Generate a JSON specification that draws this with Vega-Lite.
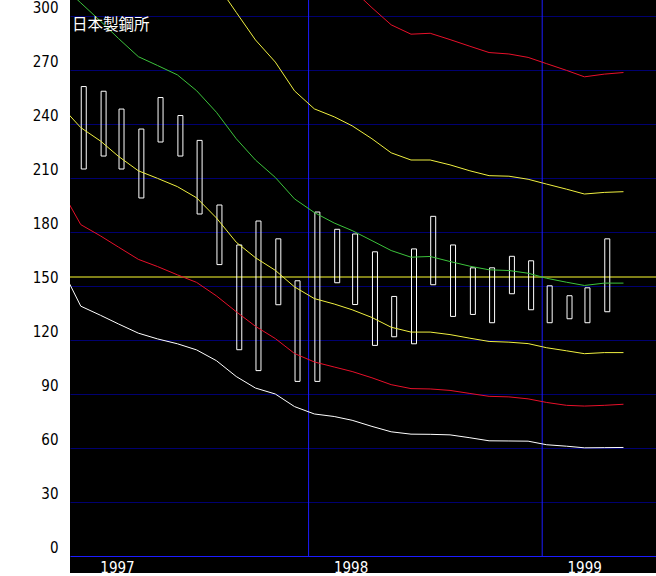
{
  "$schema": "https://vega.github.io/schema/vega-lite/v6.json",
  "width": 586,
  "height": 573,
  "autosize": {"type": "none"},
  "padding": {"left": 70, "top": 0, "right": 0, "bottom": 3},
  "background": "white",
  "title": {
    "text": "日本製鋼所",
    "anchor": "start",
    "frame": "group",
    "font": "Noto Sans CJK JP",
    "fontSize": 15.5,
    "fontWeight": "normal",
    "color": "white",
    "baseline": "top",
    "offset": 0,
    "dx": 2,
    "dy": 34
  },
  "config": {
    "view": {"fill": "black", "stroke": null},
    "axis": {
      "labelFont": "DejaVu Sans Condensed, Liberation Sans, sans-serif",
      "labelFontSize": 15,
      "ticks": false,
      "tickSize": 0,
      "domain": false,
      "labelFlush": false,
      "labelOverlap": false,
      "labelBound": false
    }
  },
  "datasets": {
    "monthly": [
      {"date": "1996-12-10", "upper": null, "lower": null, "ma": 317.6, "env_hi1": null, "env_hi2": null, "env_lo1": 250.0, "env_lo2": 203.7, "env_lo3": 160.8},
      {"date": "1997-01-10", "upper": 260.8, "lower": 215.0, "ma": 307.3, "env_hi1": null, "env_hi2": null, "env_lo1": 238.0, "env_lo2": 184.1, "env_lo3": 138.8},
      {"date": "1997-02-10", "upper": 258.2, "lower": 222.2, "ma": 297.1, "env_hi1": null, "env_hi2": null, "env_lo1": 230.5, "env_lo2": 177.8, "env_lo3": 133.7},
      {"date": "1997-03-10", "upper": 248.3, "lower": 215.0, "ma": 287.5, "env_hi1": null, "env_hi2": null, "env_lo1": 222.0, "env_lo2": 171.6, "env_lo3": 128.9},
      {"date": "1997-04-10", "upper": 237.2, "lower": 198.9, "ma": 277.4, "env_hi1": null, "env_hi2": null, "env_lo1": 214.0, "env_lo2": 164.8, "env_lo3": 123.8},
      {"date": "1997-05-10", "upper": 254.7, "lower": 230.0, "ma": 272.5, "env_hi1": null, "env_hi2": null, "env_lo1": 209.8, "env_lo2": 160.8, "env_lo3": 120.6},
      {"date": "1997-06-10", "upper": 244.7, "lower": 222.2, "ma": 267.3, "env_hi1": null, "env_hi2": null, "env_lo1": 205.2, "env_lo2": 156.2, "env_lo3": 117.9},
      {"date": "1997-07-10", "upper": 230.9, "lower": 190.0, "ma": 258.5, "env_hi1": null, "env_hi2": null, "env_lo1": 199.0, "env_lo2": 152.0, "env_lo3": 114.5},
      {"date": "1997-08-10", "upper": 195.0, "lower": 161.9, "ma": 246.5, "env_hi1": 318.0, "env_hi2": null, "env_lo1": 187.8, "env_lo2": 144.5, "env_lo3": 108.5},
      {"date": "1997-09-10", "upper": 172.8, "lower": 114.6, "ma": 231.8, "env_hi1": 302.0, "env_hi2": null, "env_lo1": 174.3, "env_lo2": 135.7, "env_lo3": 99.7},
      {"date": "1997-10-10", "upper": 186.1, "lower": 103.0, "ma": 220.0, "env_hi1": 286.7, "env_hi2": null, "env_lo1": 165.7, "env_lo2": 127.6, "env_lo3": 93.3},
      {"date": "1997-11-10", "upper": 176.2, "lower": 139.6, "ma": 210.3, "env_hi1": 274.4, "env_hi2": null, "env_lo1": 158.7, "env_lo2": 120.8, "env_lo3": 90.0},
      {"date": "1997-12-10", "upper": 152.9, "lower": 97.0, "ma": 198.4, "env_hi1": 258.4, "env_hi2": null, "env_lo1": 149.5, "env_lo2": 112.5, "env_lo3": 83.0},
      {"date": "1998-01-10", "upper": 191.1, "lower": 97.0, "ma": 190.8, "env_hi1": 248.4, "env_hi2": null, "env_lo1": 143.0, "env_lo2": 107.8, "env_lo3": 78.9},
      {"date": "1998-02-10", "upper": 181.5, "lower": 151.8, "ma": 185.0, "env_hi1": 244.0, "env_hi2": null, "env_lo1": 140.0, "env_lo2": 105.0, "env_lo3": 77.5},
      {"date": "1998-03-10", "upper": 178.9, "lower": 139.7, "ma": 180.8, "env_hi1": 239.0, "env_hi2": 315.0, "env_lo1": 136.8, "env_lo2": 102.5, "env_lo3": 75.4},
      {"date": "1998-04-10", "upper": 169.0, "lower": 117.0, "ma": 175.2, "env_hi1": 231.8, "env_hi2": 304.6, "env_lo1": 132.5, "env_lo2": 99.0, "env_lo3": 72.0},
      {"date": "1998-05-10", "upper": 144.2, "lower": 121.8, "ma": 169.7, "env_hi1": 224.0, "env_hi2": 295.1, "env_lo1": 127.1, "env_lo2": 95.2, "env_lo3": 69.0},
      {"date": "1998-06-10", "upper": 170.6, "lower": 117.9, "ma": 166.0, "env_hi1": 220.0, "env_hi2": 289.9, "env_lo1": 124.4, "env_lo2": 93.0, "env_lo3": 67.7},
      {"date": "1998-07-10", "upper": 188.7, "lower": 150.7, "ma": 166.4, "env_hi1": 220.0, "env_hi2": 290.4, "env_lo1": 124.4, "env_lo2": 92.8, "env_lo3": 67.6},
      {"date": "1998-08-10", "upper": 172.8, "lower": 133.1, "ma": 163.6, "env_hi1": 217.3, "env_hi2": 286.9, "env_lo1": 123.0, "env_lo2": 92.0, "env_lo3": 67.3},
      {"date": "1998-09-10", "upper": 160.1, "lower": 134.2, "ma": 161.0, "env_hi1": 214.0, "env_hi2": 283.2, "env_lo1": 121.0, "env_lo2": 90.3, "env_lo3": 65.7},
      {"date": "1998-10-10", "upper": 160.1, "lower": 129.6, "ma": 159.0, "env_hi1": 211.3, "env_hi2": 279.7, "env_lo1": 119.2, "env_lo2": 88.7, "env_lo3": 64.0},
      {"date": "1998-11-10", "upper": 166.5, "lower": 145.7, "ma": 158.6, "env_hi1": 211.0, "env_hi2": 278.9, "env_lo1": 118.8, "env_lo2": 88.4, "env_lo3": 63.9},
      {"date": "1998-12-10", "upper": 164.0, "lower": 136.8, "ma": 157.1, "env_hi1": 209.3, "env_hi2": 277.0, "env_lo1": 118.0, "env_lo2": 87.3, "env_lo3": 63.8},
      {"date": "1999-01-08", "upper": 150.1, "lower": 129.6, "ma": 154.3, "env_hi1": 206.6, "env_hi2": 273.5, "env_lo1": 115.7, "env_lo2": 85.3, "env_lo3": 61.8},
      {"date": "1999-02-08", "upper": 144.6, "lower": 131.8, "ma": 152.1, "env_hi1": 203.8, "env_hi2": 269.8, "env_lo1": 114.0, "env_lo2": 83.7, "env_lo3": 61.0},
      {"date": "1999-03-08", "upper": 149.0, "lower": 129.6, "ma": 150.3, "env_hi1": 201.1, "env_hi2": 266.2, "env_lo1": 112.4, "env_lo2": 83.3, "env_lo3": 60.1},
      {"date": "1999-04-08", "upper": 176.2, "lower": 135.7, "ma": 151.6, "env_hi1": 202.0, "env_hi2": 267.7, "env_lo1": 113.0, "env_lo2": 83.7, "env_lo3": 60.2},
      {"date": "1999-05-08", "upper": null, "lower": null, "ma": 151.6, "env_hi1": 202.4, "env_hi2": 268.6, "env_lo1": 113.0, "env_lo2": 84.3, "env_lo3": 60.3}
    ],
    "years": [
      {"date": "1998-01-01"},
      {"date": "1999-01-01"}
    ],
    "level": [
      {"price": 155}
    ]
  },
  "layer": [
    {
      "data": {"name": "years"},
      "mark": {"type": "rule", "color": "#1c1cff", "strokeWidth": 1},
      "encoding": {
        "x": {"field": "date", "type": "temporal", "title": null},
        "y": {"datum": 0},
        "y2": {"datum": 308.889}
      }
    },
    {
      "data": {"name": "level"},
      "mark": {"type": "rule", "color": "#ffff30", "strokeWidth": 1},
      "encoding": {
        "y": {"field": "price", "type": "quantitative", "title": null}
      }
    },
    {
      "data": {"name": "monthly"},
      "mark": {"type": "bar", "width": 5, "xOffset": 3, "filled": false, "color": "white", "strokeWidth": 1},
      "encoding": {
        "x": {
          "field": "date",
          "type": "temporal",
          "title": null,
          "scale": {"type": "utc", "nice": false, "domain": [{"year": 1997, "month": 1, "date": 1, "utc": true}, {"year": 1999, "month": 6, "date": 20, "utc": true}]},
          "axis": {
            "orient": "bottom",
            "offset": -17,
            "format": "%Y",
            "tickCount": {"interval": "year", "step": 1},
            "grid": false,
            "domain": true,
            "domainColor": "#1c1cff",
            "domainWidth": 1,
            "labelColor": "white",
            "labelAlign": "center",
            "labelBaseline": "top",
            "labelOffset": 42,
            "labelPadding": 4,
            "labelAngle": 0
          }
        },
        "y": {
          "field": "upper",
          "type": "quantitative",
          "title": null,
          "scale": {"domain": [-9.444, 308.889], "nice": false, "zero": false},
          "axis": {
            "orient": "left",
            "values": [30, 60, 90, 120, 150, 180, 210, 240, 270, 300, 0],
            "labelColor": "black",
            "labelPadding": 12,
            "labelOffset": -9,
            "labelBaseline": "middle",
            "grid": true,
            "gridColor": "#000070",
            "gridWidth": 1
          }
        },
        "y2": {"field": "lower"}
      }
    },
    {
      "data": {"name": "monthly"},
      "mark": {"type": "line", "color": "#e8102a", "strokeWidth": 1, "clip": true},
      "encoding": {
        "x": {"field": "date", "type": "temporal", "title": null},
        "y": {"field": "env_hi2", "type": "quantitative", "title": null}
      }
    },
    {
      "data": {"name": "monthly"},
      "mark": {"type": "line", "color": "#f0f040", "strokeWidth": 1, "clip": true},
      "encoding": {
        "x": {"field": "date", "type": "temporal", "title": null},
        "y": {"field": "env_hi1", "type": "quantitative", "title": null}
      }
    },
    {
      "data": {"name": "monthly"},
      "mark": {"type": "line", "color": "#3cc43c", "strokeWidth": 1, "clip": true},
      "encoding": {
        "x": {"field": "date", "type": "temporal", "title": null},
        "y": {"field": "ma", "type": "quantitative", "title": null}
      }
    },
    {
      "data": {"name": "monthly"},
      "mark": {"type": "line", "color": "#f0f040", "strokeWidth": 1, "clip": true},
      "encoding": {
        "x": {"field": "date", "type": "temporal", "title": null},
        "y": {"field": "env_lo1", "type": "quantitative", "title": null}
      }
    },
    {
      "data": {"name": "monthly"},
      "mark": {"type": "line", "color": "#e8102a", "strokeWidth": 1, "clip": true},
      "encoding": {
        "x": {"field": "date", "type": "temporal", "title": null},
        "y": {"field": "env_lo2", "type": "quantitative", "title": null}
      }
    },
    {
      "data": {"name": "monthly"},
      "mark": {"type": "line", "color": "#ffffff", "strokeWidth": 1, "clip": true},
      "encoding": {
        "x": {"field": "date", "type": "temporal", "title": null},
        "y": {"field": "env_lo3", "type": "quantitative", "title": null}
      }
    }
  ]
}
